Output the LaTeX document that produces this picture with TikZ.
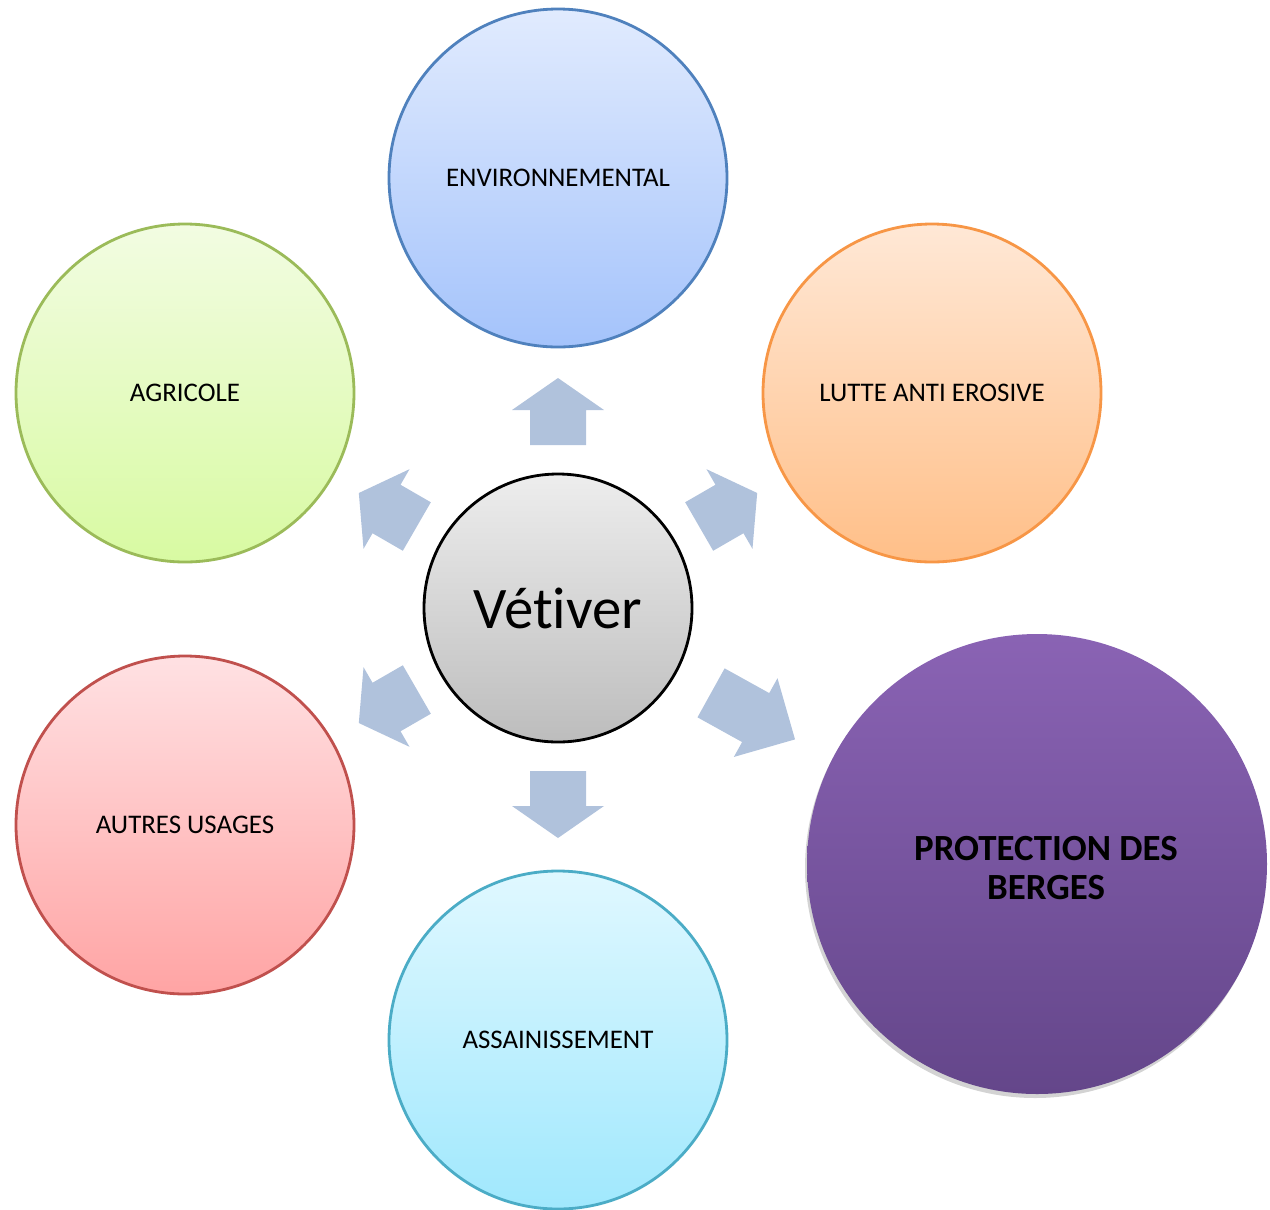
\documentclass[tikz,border=0pt]{standalone}
\usepackage{fontspec}
\setmainfont{Carlito}[Ligatures={NoCommon,NoContextual}, Contextuals=NoAlternate]
\usetikzlibrary{positioning}
\usetikzlibrary{shadows}

\definecolor{envline}{HTML}{4F81BD}
\definecolor{envtop}{HTML}{E1EBFE}
\definecolor{envbot}{HTML}{A4C3FB}
\definecolor{lutline}{HTML}{F79646}
\definecolor{luttop}{HTML}{FFE8D6}
\definecolor{lutbot}{HTML}{FFBF88}
\definecolor{agrline}{HTML}{9BBB59}
\definecolor{agrtop}{HTML}{F2FCE2}
\definecolor{agrbot}{HTML}{D8FAA2}
\definecolor{autline}{HTML}{C0504D}
\definecolor{auttop}{HTML}{FFE1E3}
\definecolor{autbot}{HTML}{FFA4A4}
\definecolor{assline}{HTML}{4BACC6}
\definecolor{asstop}{HTML}{E0F8FF}
\definecolor{assbot}{HTML}{A0E8FD}
\definecolor{prottop}{HTML}{8A63B4}
\definecolor{protbot}{HTML}{64468A}
\definecolor{arrowblue}{HTML}{B0C2DC}

\begin{document}
\begin{tikzpicture}[
  bubble/.style={circle, inner sep=0pt, minimum size=6.76cm, line width=1.6pt,
    font=\fontsize{15.3}{18}\selectfont},
  pointer/.style={fill=arrowblue}
]
\useasboundingbox (0,0) rectangle (25.4,-24.18);

\node[circle, inner sep=0pt, minimum size=5.36cm, draw=black, line width=1.6pt,
  top color=black!7, bottom color=black!26,
  font=\fontsize{33.5}{40}\selectfont] (vet) at (11.16,-12.16) {Vét\kern0pt iver};

\node[bubble, draw=envline, top color=envtop, bottom color=envbot] (env) at (11.16,-3.56) {ENVIRONNEMENTAL};
\node[bubble, draw=lutline, top color=luttop, bottom color=lutbot] (lutte) at (18.64,-7.86) {LUTTE ANTI EROSIVE};
\node[bubble, draw=agrline, top color=agrtop, bottom color=agrbot] (agri) at (3.70,-7.86) {AGRICOLE};
\node[bubble, draw=autline, top color=auttop, bottom color=autbot] (autres) at (3.70,-16.50) {AUTRES USAGES};
\node[bubble, draw=assline, top color=asstop, bottom color=assbot] (assain) at (11.16,-20.80) {ASSAINISSEMENT};
\node[circle, inner sep=0pt, minimum size=9.2cm, top color=prottop, bottom color=protbot,
  drop shadow={shadow xshift=-0.04cm, shadow yshift=-0.08cm, opacity=0.35},
  label={[xshift=0.18cm, yshift=-0.08cm, align=center,
    font=\bfseries\fontsize{21}{22.5}\selectfont]center:PROTECTION DES\\BERGES}] (prot) at (20.74,-17.28) {};

% block arrows around the centre
\begin{scope}[shift={(vet.center)}]
\fill[pointer, rotate=90] (3.26,-0.56) -- (3.96,-0.56) -- (3.96,-0.92) -- (4.6,0) -- (3.96,0.92) -- (3.96,0.56) -- (3.26,0.56) -- cycle;
\fill[pointer, rotate=30] (3.26,-0.56) -- (3.96,-0.56) -- (3.96,-0.92) -- (4.6,0) -- (3.96,0.92) -- (3.96,0.56) -- (3.26,0.56) -- cycle;
\fill[pointer, rotate=150] (3.26,-0.56) -- (3.96,-0.56) -- (3.96,-0.92) -- (4.6,0) -- (3.96,0.92) -- (3.96,0.56) -- (3.26,0.56) -- cycle;
\fill[pointer, rotate=210] (3.26,-0.56) -- (3.96,-0.56) -- (3.96,-0.92) -- (4.6,0) -- (3.96,0.92) -- (3.96,0.56) -- (3.26,0.56) -- cycle;
\fill[pointer, rotate=270] (3.26,-0.56) -- (3.96,-0.56) -- (3.96,-0.92) -- (4.6,0) -- (3.96,0.92) -- (3.96,0.56) -- (3.26,0.56) -- cycle;
\fill[pointer, rotate=-29] (3.5,-0.56) -- (4.52,-0.56) -- (4.52,-0.9) -- (5.42,0) -- (4.52,0.9) -- (4.52,0.56) -- (3.5,0.56) -- cycle;
\end{scope}
\end{tikzpicture}
\end{document}
